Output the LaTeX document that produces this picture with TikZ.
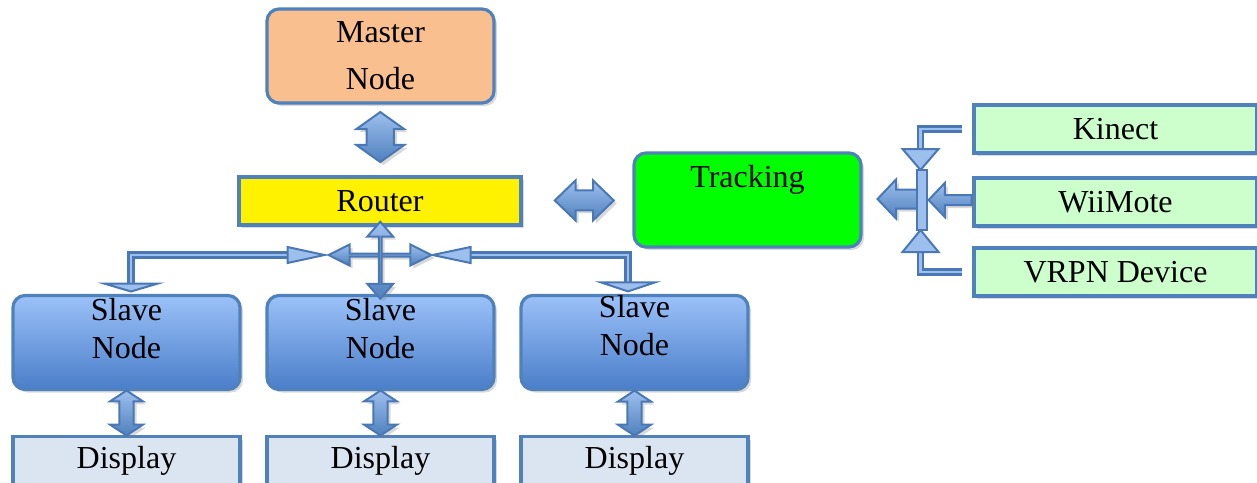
\documentclass[tikz,border=0pt]{standalone}
\usepackage{fontspec}
\setmainfont{Liberation Serif}
\usepackage{xcolor}
\usetikzlibrary{positioning,calc,shapes.arrows,shadows}

\definecolor{edgeblue}{HTML}{4F81BD}
\definecolor{masterfill}{HTML}{FABF8F}
\definecolor{trackfill}{HTML}{00FF00}
\definecolor{devicefill}{HTML}{CCFFCC}
\definecolor{displayfill}{HTML}{DBE5F1}
\definecolor{slavetop}{HTML}{9BC1F8}
\definecolor{slavebottom}{HTML}{4A7EC9}
\definecolor{arrowtop}{HTML}{9DBFEE}
\definecolor{arrowbottom}{HTML}{4F81BD}
\definecolor{arrowline}{HTML}{4A78B5}

\begin{document}
\begin{tikzpicture}[x=0.5pt, y=-0.5pt, font=\fontsize{16}{19}\selectfont,
  boxshadow/.style={drop shadow={opacity=0.3, shadow xshift=1.5pt, shadow yshift=-1.5pt}},
  box/.style={rectangle, draw=edgeblue, line width=1.6pt, outer sep=0pt, inner sep=0pt, align=center, boxshadow},
  roundbox/.style={box, rounded corners=6pt, minimum width=113.5pt, minimum height=47pt},
  masterbox/.style={roundbox, fill=masterfill, font=\fontsize{16}{23.5}\selectfont},
  routerbox/.style={box, fill=yellow, minimum width=141pt, minimum height=24pt},
  trackbox/.style={roundbox, fill=trackfill, font=\fontsize{16}{23.5}\selectfont},
  devicebox/.style={box, fill=devicefill, minimum width=141.5pt, minimum height=24pt},
  slavebox/.style={roundbox, top color=slavetop, bottom color=slavebottom},
  displaybox/.style={box, fill=displayfill, minimum width=113.5pt, minimum height=24pt},
  shaft/.style={text width=#1, text height=#1, text depth=0pt},
  blockarrow/.style={double arrow, draw=arrowline, line width=1pt, top color=arrowtop, bottom color=arrowbottom, inner sep=0pt, outer sep=0pt, boxshadow},
  onearrow/.style={single arrow, draw=arrowline, line width=1pt, top color=arrowtop, bottom color=arrowbottom, inner sep=0pt, outer sep=0pt, boxshadow},
  pipe/.style={draw=arrowline, double=arrowtop, double distance=1.3pt, line width=1.3pt},
  head/.style={draw=arrowline, fill=arrowtop, line width=1pt, line join=miter}]

\useasboundingbox (0,0) rectangle (1257,482);

%%% MASTER AND ROUTER
\node [masterbox] (master) at (380.5,56) {Master\\Node};
\node [routerbox] (router) at (380,201) {Router};

%%% TRACKING
\node [trackbox] (tracking) at (747.5,200) {Tracking\\\mbox{}};

%%% INPUT DEVICES
\node [devicebox] (kinect) at (1115.5,129) {Kinect};
\node [devicebox, below = 12.5pt of kinect] (wiimote) {WiiMote};
\node [devicebox, below = 11pt of wiimote] (vrpn) {VRPN Device};

%%% SLAVES AND DISPLAYS
\node [slavebox] (slave1) at (126.5,342.5) {Slave\\Node\\[-5pt]\mbox{}};
\node [slavebox, right = 13.5pt of slave1] (slave2) {Slave\\Node\\[-5pt]\mbox{}};
\node [slavebox, right = 13.5pt of slave2] (slave3) {Slave\\Node\\[-2pt]\mbox{}};
\foreach \i in {1,2,3}
  \node [displaybox, below = 23.5pt of slave\i] (display\i) {Display};

%%% block arrows
\node [blockarrow, shaft=12pt, shape border rotate=90, minimum height=25pt, minimum width=24pt, double arrow head extend=5pt, double arrow tip angle=109] (master-router) at ($(master.south)!0.46!(router.north)$) {};
\node [blockarrow, shaft=9pt, minimum height=29.5pt, minimum width=19.5pt, double arrow head extend=5pt, double arrow tip angle=88] (router-tracking) at ($(router.east)!0.56!(tracking.west)$) {};
\foreach \i in {1,2,3}
  \node [blockarrow, shaft=6pt, shape border rotate=90, minimum height=22.5pt, minimum width=16.5pt, double arrow head extend=4.5pt, double arrow tip angle=113] (slave-display\i) at ($(slave\i.south)!0.5!(display\i.north)$) {};

%%% router hub to the slaves
\coordinate (hub) at ($(router.south)+(0,30)$);
\node [blockarrow, minimum height=51.5pt, minimum width=10.5pt, double arrow head extend=3pt, double arrow tip angle=53] (hub-h) at (hub) {};
\node [blockarrow, shape border rotate=90, minimum height=38.5pt, minimum width=13pt, double arrow head extend=4.25pt, double arrow tip angle=82] (hub-v) at ($(router.south)!0.5!(slave2.north)$) {};

\draw [pipe] ($(slave1.north)+(4.5,-12)$) |- ($(hub-h.west)+(-41,0)$);
\filldraw [head] ($(slave1.north)+(-22.5,-12)$) -- ++(54,0) -- ++(-27,8) -- cycle;
\filldraw [head] ($(hub-h.west)+(-4,0)$) -- ++(-37,-8) -- ++(0,16) -- cycle;

\draw [pipe] ($(slave3.north)+(-6.5,-13)$) |- ($(hub-h.east)+(39,0)$);
\filldraw [head] ($(slave3.north)+(-33.5,-13)$) -- ++(54,0) -- ++(-27,9) -- cycle;
\filldraw [head] ($(hub-h.east)+(1,0)$) -- ++(38,-8) -- ++(0,16) -- cycle;

%%% device hub to tracking
\coordinate (dev-hub) at ($(tracking.east)+(60.5,0)$);
\node [onearrow, shaft=8.5pt, shape border rotate=180, minimum height=23pt, minimum width=19pt, single arrow head extend=5pt, single arrow tip angle=93] (hub-tracking) at ($(tracking.east)+(44,-1)$) {};
\node [onearrow, shaft=4pt, shape border rotate=180, minimum height=21.5pt, minimum width=16pt, single arrow head extend=6pt, single arrow tip angle=93] (wiimote-hub) at ($(wiimote.west)+(-21.5,-2)$) {};

\draw [pipe] ($(kinect.west)+(-12,0)$) -| ($(dev-hub)+(-1,-51)$);
\filldraw [head] ($(dev-hub)+(-19,-51)$) -- ++(36,0) -- ++(-18,21) -- cycle;
\draw [pipe] ($(vrpn.west)+(-12,0)$) -| ($(dev-hub)+(-1,52)$);
\filldraw [head] ($(dev-hub)+(-19,52)$) -- ++(36,0) -- ++(-18,-22) -- cycle;
\filldraw [head] ($(dev-hub)+(-5,-30)$) rectangle ($(dev-hub)+(5,30)$);

\end{tikzpicture}
\end{document}
